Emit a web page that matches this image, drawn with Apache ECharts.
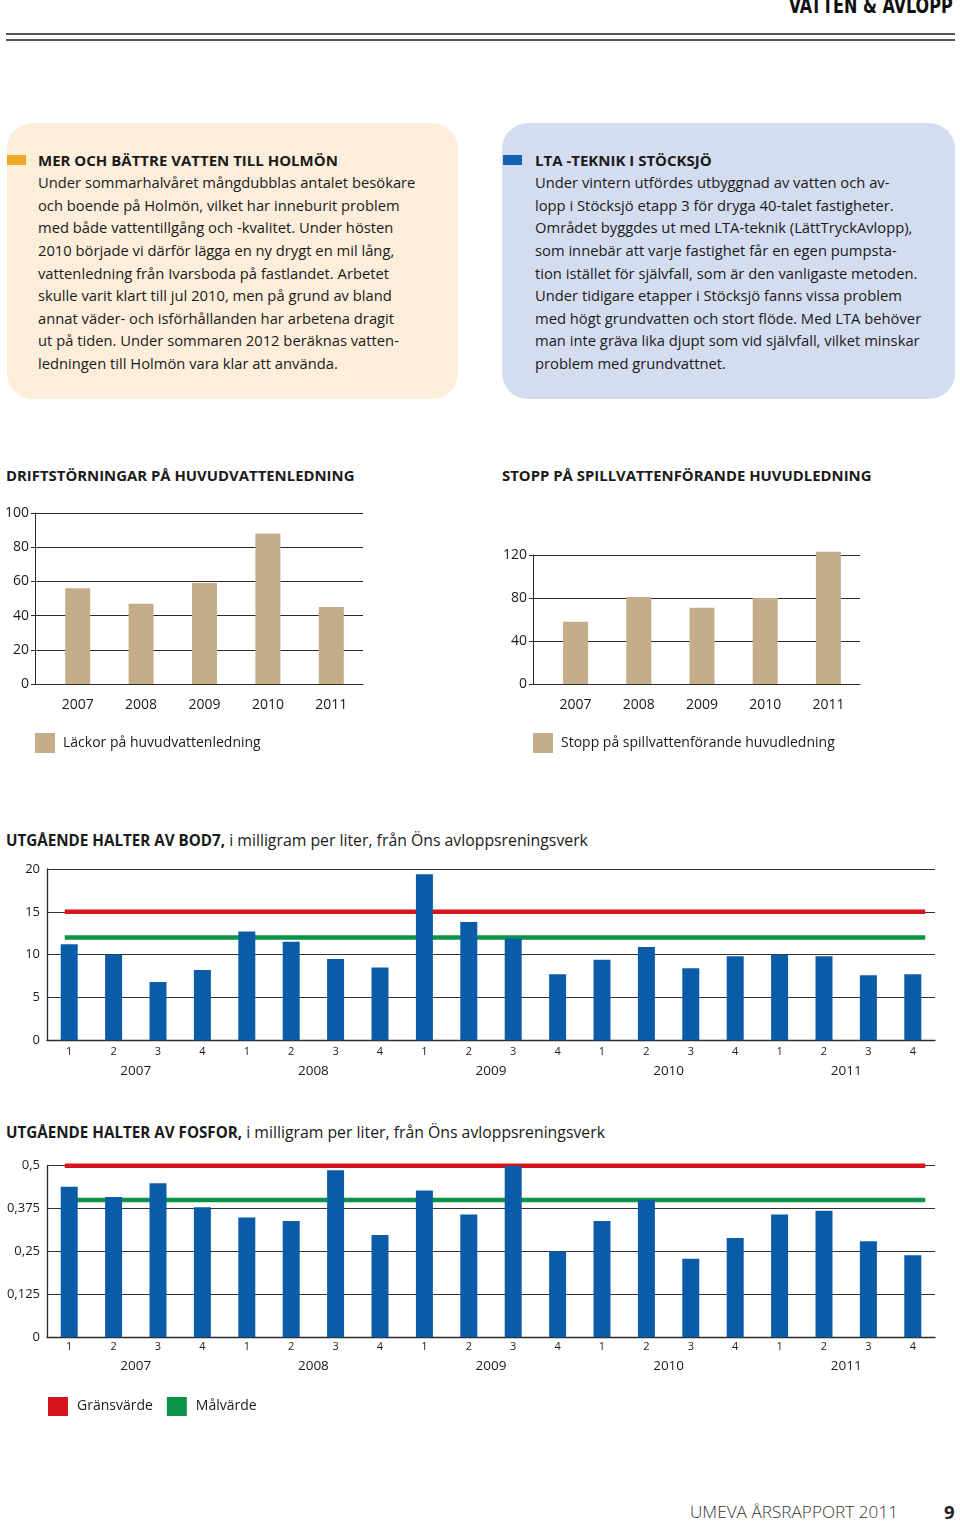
<!DOCTYPE html>
<html><head><meta charset="utf-8">
<script src="https://cdn.jsdelivr.net/npm/echarts@6/dist/echarts.min.js"></script>
<style>
body{margin:0;width:960px;height:1522px;position:relative;background:#fff;font-family:"Open Sans",sans-serif;color:#1a1a1a;overflow:hidden}
.abs{position:absolute}
.hdr{right:7px;top:-6px;font-family:"DejaVu Sans Condensed","DejaVu Sans",sans-serif;font-stretch:condensed;font-weight:bold;font-size:21px;color:#111;white-space:nowrap;transform-origin:right top}
.rule{left:6px;width:949px;height:2px;background:#555}
.box{top:123px;height:276px;border-radius:26px}
.txt{font-size:14.75px;line-height:22.6px;white-space:nowrap;top:148.7px}
.txt b{font-weight:bold;font-size:15px}
.sq{width:19px;height:10px;top:155px}
.ct{font-size:15.2px;font-weight:bold;white-space:nowrap;line-height:22px}
.ct span{font-weight:normal;font-size:15.8px}
.chart{position:absolute}
</style></head>
<body>
<div id="hdr" class="abs hdr">VATTEN &amp; AVLOPP</div>
<div class="abs rule" style="top:33px"></div>
<div class="abs rule" style="top:39px"></div>

<div class="abs box" style="left:7px;width:451px;background:#fdeedb"></div>
<div class="abs box" style="left:502px;width:453px;background:#d4ddf0"></div>
<div class="abs sq" style="left:7px;background:#f2a922"></div>
<div class="abs sq" style="left:503px;background:#1560b0"></div>
<div class="abs txt" style="left:38px"><b>MER OCH BÄTTRE VATTEN TILL HOLMÖN</b><br>Under sommarhalvåret mångdubblas antalet besökare<br>och boende på Holmön, vilket har inneburit problem<br>med både vattentillgång och -kvalitet. Under hösten<br>2010 började vi därför lägga en ny drygt en mil lång,<br>vattenledning från Ivarsboda på fastlandet. Arbetet<br>skulle varit klart till jul 2010, men på grund av bland<br>annat väder- och isförhållanden har arbetena dragit<br>ut på tiden. Under sommaren 2012 beräknas vatten-<br>ledningen till Holmön vara klar att använda.</div>
<div class="abs txt" style="left:535px"><b>LTA -TEKNIK I STÖCKSJÖ</b><br>Under vintern utfördes utbyggnad av vatten och av-<br>lopp i Stöcksjö etapp 3 för dryga 40-talet fastigheter.<br>Området byggdes ut med LTA-teknik (LättTryckAvlopp),<br>som innebär att varje fastighet får en egen pumpsta-<br>tion istället för självfall, som är den vanligaste metoden.<br>Under tidigare etapper i Stöcksjö fanns vissa problem<br>med högt grundvatten och stort flöde. Med LTA behöver<br>man inte gräva lika djupt som vid självfall, vilket minskar<br>problem med grundvattnet.</div>

<div class="abs ct" style="left:6px;top:464px;font-size:14.9px">DRIFTSTÖRNINGAR PÅ HUVUDVATTENLEDNING</div>
<div class="abs ct" style="left:502px;top:464px;font-size:14.9px">STOPP PÅ SPILLVATTENFÖRANDE HUVUDLEDNING</div>
<div class="abs ct" style="left:6px;top:829px">UTGÅENDE HALTER AV BOD7,<span> i milligram per liter, från Öns avloppsreningsverk</span></div>
<div class="abs ct" style="left:6px;top:1121px">UTGÅENDE HALTER AV FOSFOR,<span> i milligram per liter, från Öns avloppsreningsverk</span></div>

<div id="c1" class="chart" style="left:0;top:490px;width:480px;height:280px"></div>
<div id="c2" class="chart" style="left:480px;top:490px;width:480px;height:280px"></div>
<div id="c3" class="chart" style="left:0;top:855px;width:960px;height:240px"></div>
<div id="c4" class="chart" style="left:0;top:1150px;width:960px;height:290px"></div>

<div class="abs" style="left:690px;top:1500px;font-size:17.2px;font-weight:300;color:#333;white-space:nowrap">UMEVA ÅRSRAPPORT 2011</div>
<div class="abs" style="left:944px;top:1499px;font-size:18.5px;font-weight:bold;color:#222">9</div>

<script>
const years = ['2007', '2008', '2009', '2010', '2011'];
const lackor = [56, 47, 59, 88, 45];
const lackorName = 'Läckor på huvudvattenledning';
const stopp = [58, 81, 71, 80, 123];
const stoppName = 'Stopp på spillvattenförande huvudledning';
const quarters = ['1','2','3','4','1','2','3','4','1','2','3','4','1','2','3','4','1','2','3','4'];
const bod7 = [11.2, 10.0, 6.8, 8.2, 12.7, 11.5, 9.5, 8.5, 19.4, 13.8, 11.9, 7.7, 9.4, 10.9, 8.4, 9.8, 10.0, 9.8, 7.6, 7.7];
const fosfor = [0.439, 0.409, 0.449, 0.379, 0.349, 0.339, 0.487, 0.298, 0.428, 0.358, 0.499, 0.251, 0.339, 0.400, 0.229, 0.289, 0.358, 0.369, 0.280, 0.239];
const bodLimit = 15, bodTarget = 12;
const fosforLimit = 0.5, fosforTarget = 0.4;
const limitName = 'Gränsvärde', targetName = 'Målvärde';
const limitSpan = [0.4, 19.78]; // in quarter units along the axis

// squeeze header into its condensed width
(function () {
  const h = document.getElementById('hdr');
  const w = h.getBoundingClientRect().width;
  h.style.transform = 'scaleX(' + (164 / w) + ')';
})();

const FONT = '"Open Sans", sans-serif';
const TAN = '#c4ad88', BLUE = '#0b5ca8', RED = '#d7141e', GREEN = '#0b9448';
const AX = '#2a2a2a';

function yearChart(id, data, name, yMax, interval, grid) {
  const ch = echarts.init(document.getElementById(id), null, {renderer: 'canvas'});
  const yBase = {type: 'value', position: 'left', min: 0, max: yMax, interval: interval, offset: 11};
  ch.setOption({
    animation: false,
    textStyle: {fontFamily: FONT},
    grid: grid,
    legend: {
      left: grid.left - 11, top: 243, padding: 0, icon: 'rect', itemWidth: 20, itemHeight: 20,
      textStyle: {fontFamily: FONT, fontSize: 14, color: '#1a1a1a', padding: [0, 0, 0, 3]},
      data: [name]
    },
    xAxis: {
      type: 'category', data: years,
      axisLine: {lineStyle: {color: AX, width: 1}},
      axisTick: {length: 4, lineStyle: {color: AX}},
      axisLabel: {margin: 14, fontSize: 14, color: '#1a1a1a', fontFamily: FONT}
    },
    yAxis: [Object.assign({}, yBase, {
      axisLine: {show: true, lineStyle: {color: AX}},
      axisTick: {show: true, inside: true, length: 11, lineStyle: {color: AX}},
      axisLabel: {margin: 6, fontSize: 14, color: '#1a1a1a', fontFamily: FONT},
      splitLine: {lineStyle: {color: AX, width: 1}}
    }), Object.assign({}, yBase, {
      axisLine: {show: false},
      axisTick: {show: true, length: 4, lineStyle: {color: AX}},
      axisLabel: {show: false},
      splitLine: {show: false}
    })],
    series: [{
      type: 'bar', name: name, data: data, barWidth: 25, clip: false,
      itemStyle: {color: TAN}
    }]
  });
}

yearChart('c1', lackor, lackorName, 100, 20, {left: 46, top: 23, width: 317, height: 171});
yearChart('c2', stopp, stoppName, 120, 40, {left: 64, top: 65, width: 316, height: 129});

function quarterChart(id, data, limit, target, yMax, interval, grid, fmt, qMargin, yearOffset, showLegend) {
  const ch = echarts.init(document.getElementById(id), null, {renderer: 'canvas'});
  const opt = {
    animation: false,
    textStyle: {fontFamily: FONT},
    grid: grid,
    xAxis: [{
      type: 'category', data: quarters, position: 'bottom',
      axisLine: {lineStyle: {color: AX, width: 1.3}},
      axisTick: {length: 3, lineStyle: {color: AX}},
      axisLabel: {margin: qMargin, fontSize: 11, color: '#1a1a1a', fontFamily: FONT}
    }, {
      type: 'category', data: years, position: 'bottom', offset: yearOffset,
      axisLine: {show: false}, axisTick: {show: false},
      axisLabel: {margin: 0, fontSize: 13.5, color: '#1a1a1a', fontFamily: FONT}
    }, {
      type: 'value', min: 0, max: 20, show: false
    }],
    yAxis: {
      type: 'value', min: 0, max: yMax, interval: interval,
      axisLine: {show: true, lineStyle: {color: AX, width: 1.3}},
      axisTick: {show: false},
      axisLabel: {margin: 7, fontSize: 13, color: '#1a1a1a', fontFamily: FONT, formatter: fmt},
      splitLine: {lineStyle: {color: '#333', width: 1.2}}
    },
    series: [{
      type: 'line', name: limitName, xAxisIndex: 2, z: 1, clip: false,
      data: [[limitSpan[0], limit], [limitSpan[1], limit]],
      symbol: 'none', lineStyle: {color: RED, width: 4.5}, itemStyle: {color: RED}
    }, {
      type: 'line', name: targetName, xAxisIndex: 2, z: 1, clip: false,
      data: [[limitSpan[0], target], [limitSpan[1], target]],
      symbol: 'none', lineStyle: {color: GREEN, width: 4.5}, itemStyle: {color: GREEN}
    }, {
      type: 'bar', name: 'värde', xAxisIndex: 0, z: 3, data: data, barWidth: 17,
      itemStyle: {color: BLUE}
    }]
  };
  if (showLegend) {
    opt.legend = {
      left: 48, top: 247, padding: 0, icon: 'rect', itemWidth: 20, itemHeight: 19, itemGap: 14,
      textStyle: {fontFamily: FONT, fontSize: 14, color: '#1a1a1a', padding: [0, 0, 0, 4]},
      data: [limitName, targetName]
    };
  }
  ch.setOption(opt);
}

quarterChart('c3', bod7, bodLimit, bodTarget, 20, 5,
  {left: 47, top: 14, width: 888, height: 171.3}, v => String(v), 6, 24, false);
quarterChart('c4', fosfor, fosforLimit, fosforTarget, 0.5, 0.125,
  {left: 47, top: 15.7, width: 888, height: 171.6}, v => String(v).replace('.', ','), 4, 22, true);
</script>
</body></html>
